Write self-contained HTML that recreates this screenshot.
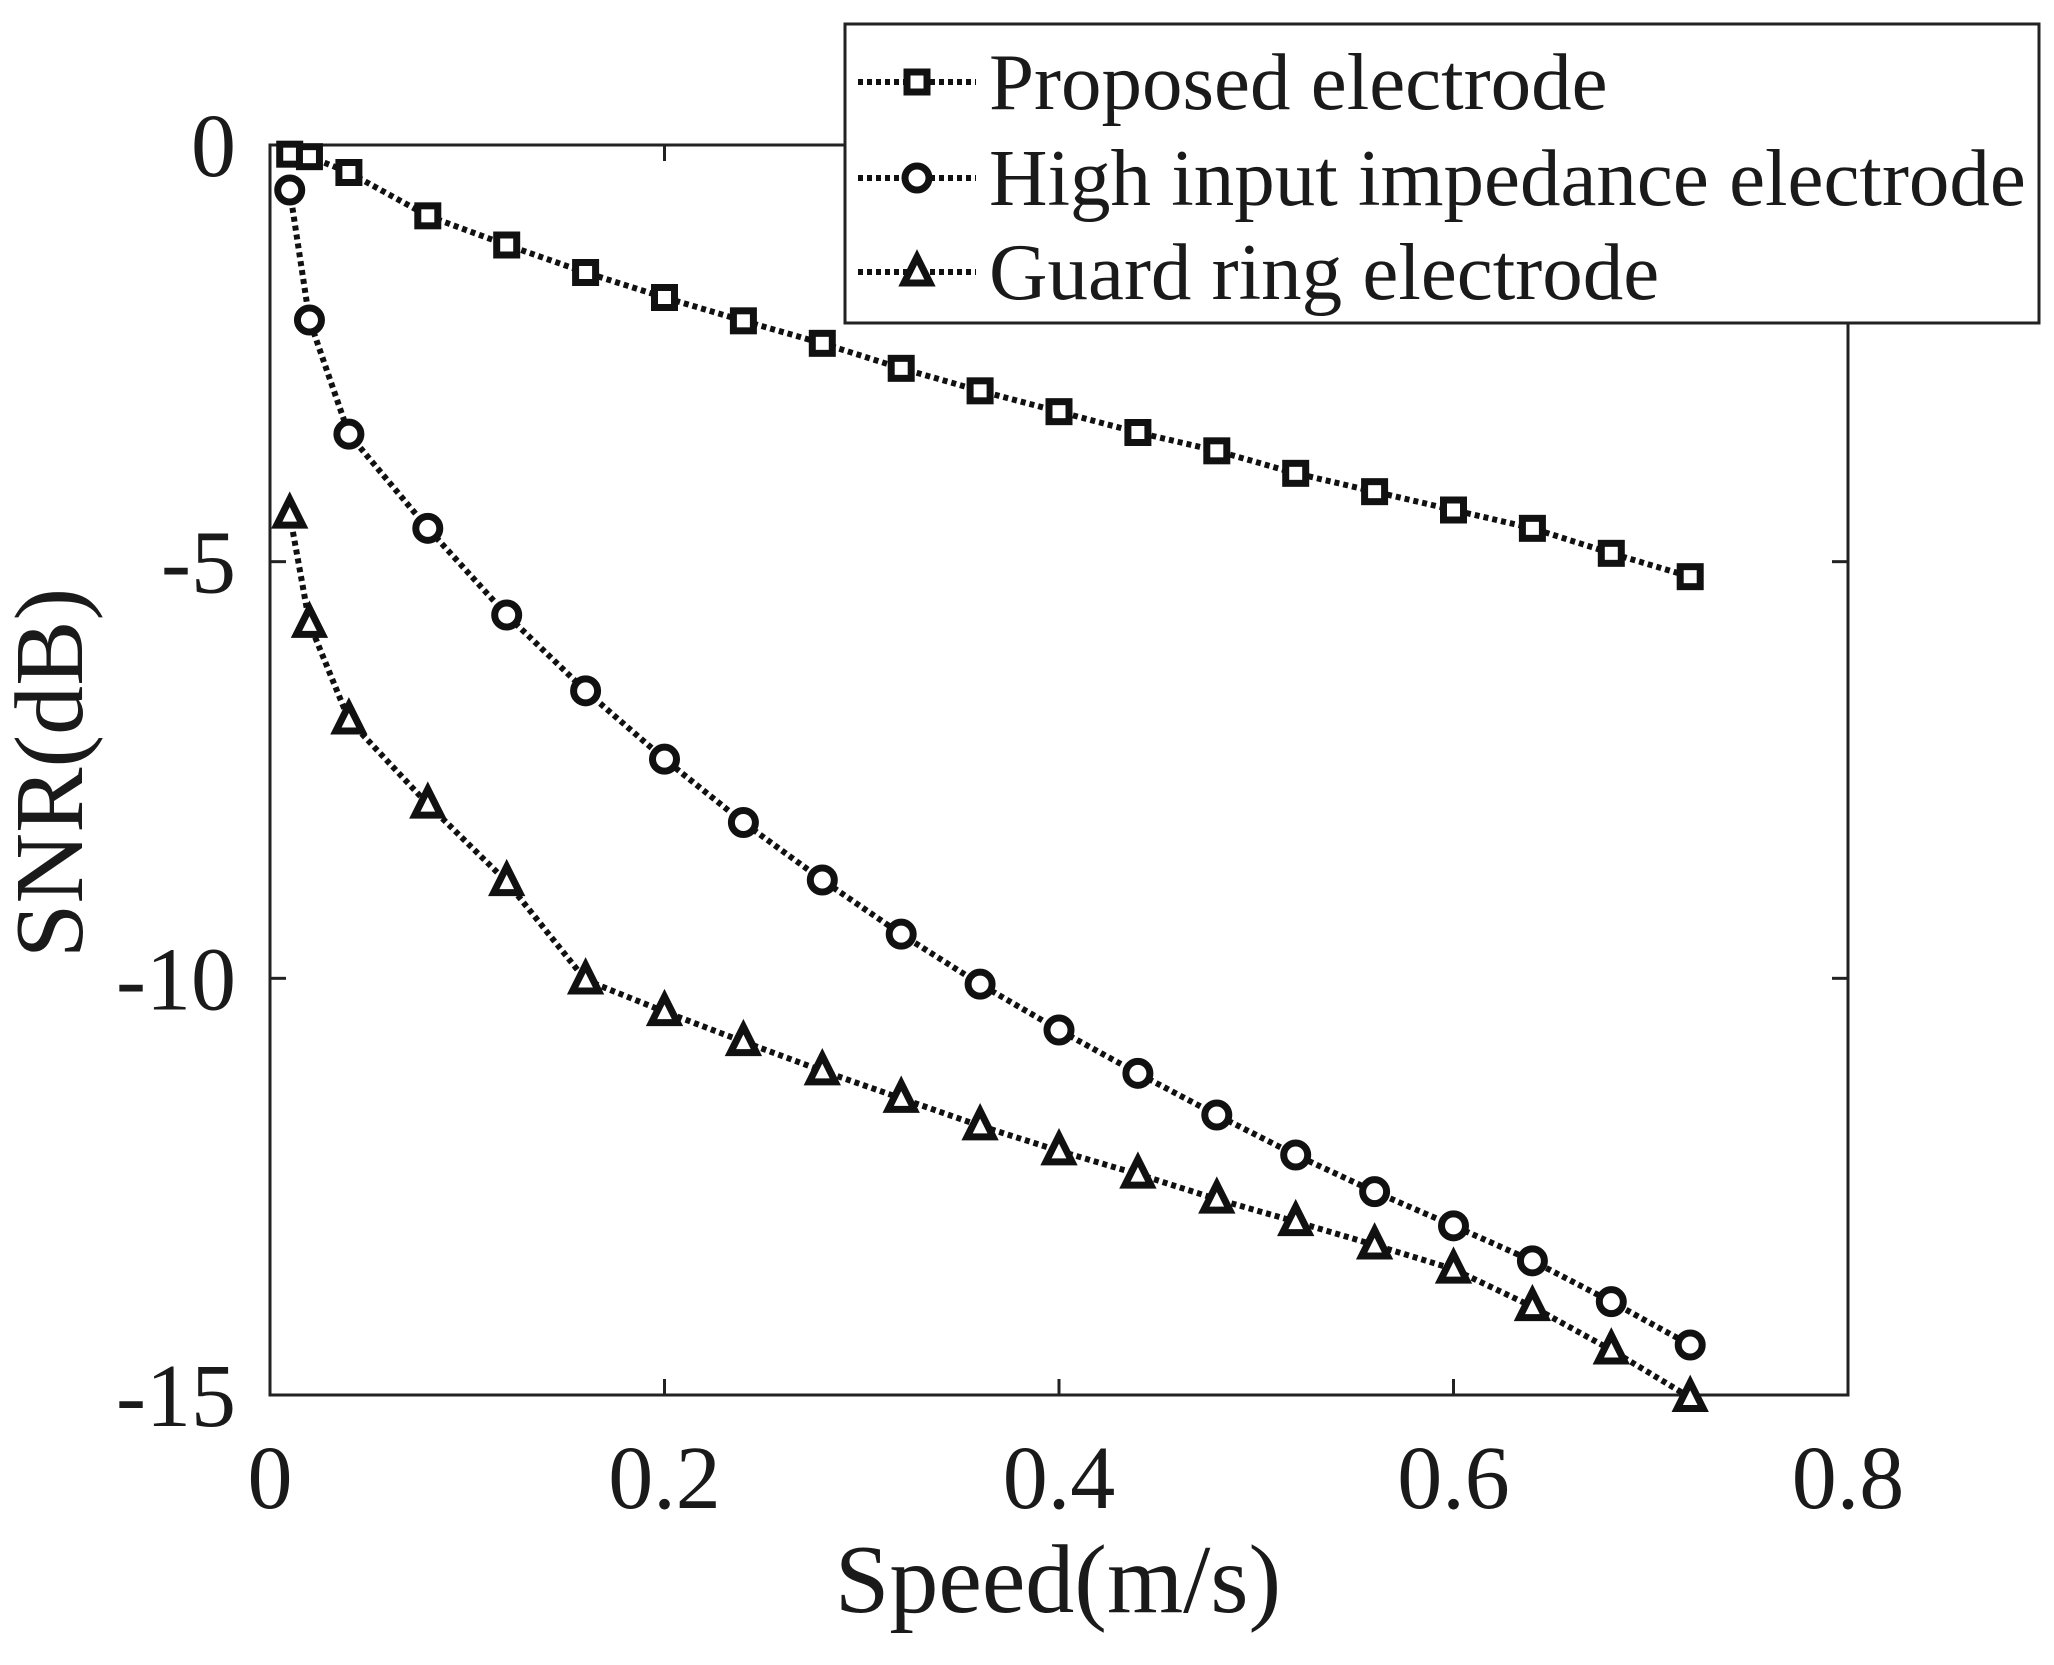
<!DOCTYPE html>
<html><head><meta charset="utf-8"><style>
html,body{margin:0;padding:0;background:#fff;}
svg{display:block;}
text{font-family:"Liberation Serif",serif;fill:#1a1a1a;}
</style></head><body>
<svg id="s" width="2054" height="1665" xmlns="http://www.w3.org/2000/svg">
<rect x="0" y="0" width="2054" height="1665" fill="#fff"/>
<g id="plot"></g>
</svg>
<script>
const L=270,R=1848,T=145,B=1395;
const X=v=>L+v/0.8*(R-L);
function y(v){return T+(-v)/15*(B-T);}
const xs=[0.01,0.02,0.04,0.08];for(let v=0.12;v<0.725;v+=0.04)xs.push(+v.toFixed(2));
const P=[-0.11,-0.14,-0.33,-0.85,-1.2,-1.53,-1.83,-2.11,-2.38,-2.68,-2.95,-3.2,-3.45,-3.67,-3.94,-4.16,-4.38,-4.6,-4.9,-5.18];
const H=[-0.54,-2.1,-3.47,-4.6,-5.64,-6.55,-7.37,-8.13,-8.82,-9.47,-10.07,-10.62,-11.14,-11.64,-12.12,-12.56,-12.97,-13.39,-13.88,-14.4];
const G=[-4.43,-5.74,-6.9,-7.91,-8.84,-10.02,-10.4,-10.76,-11.11,-11.44,-11.77,-12.07,-12.35,-12.65,-12.92,-13.2,-13.49,-13.94,-14.46,-15.03];
let s='';
s+=`<rect x="${L}" y="${T}" width="${R-L}" height="${B-T}" fill="none" stroke="#222" stroke-width="3"/>`;
for(let i=0;i<=4;i++){const xx=X(i*0.2);s+=`<line x1="${xx}" y1="${B}" x2="${xx}" y2="${B-16}" stroke="#222" stroke-width="3"/><line x1="${xx}" y1="${T}" x2="${xx}" y2="${T+16}" stroke="#222" stroke-width="3"/>`;
s+=`<text x="${xx}" y="1508" font-size="90" text-anchor="middle">${i==0?'0':(i*0.2).toFixed(1)}</text>`;}
for(let i=0;i<=3;i++){const yy=y(-5*i);s+=`<line x1="${L}" y1="${yy}" x2="${L+16}" y2="${yy}" stroke="#222" stroke-width="3"/><line x1="${R}" y1="${yy}" x2="${R-16}" y2="${yy}" stroke="#222" stroke-width="3"/>`;
s+=`<text x="236" y="${yy+31}" font-size="90" text-anchor="end">${i==0?'0':'-'+(5*i)}</text>`;}
s+=`<text x="1058" y="1612" font-size="98" text-anchor="middle">Speed(m/s)</text>`;
s+=`<text transform="translate(82,773) rotate(-90)" font-size="98" text-anchor="middle">SNR(dB)</text>`;
function line(d){return `<polyline points="${d}" fill="none" stroke="#111" stroke-width="6" stroke-dasharray="5 4"/>`;}
function mk(t,cx,cy){
 if(t=='s')return `<rect x="${cx-10}" y="${cy-10}" width="20" height="20" fill="#fff" stroke="#111" stroke-width="7"/>`;
 if(t=='c')return `<circle cx="${cx}" cy="${cy}" r="12" fill="#fff" stroke="#111" stroke-width="7"/>`;
 return `<polygon points="${cx},${cy-15} ${cx-13},${cy+11} ${cx+13},${cy+11}" fill="#fff" stroke="#111" stroke-width="7" stroke-linejoin="miter"/>`;}
[[P,'s'],[H,'c'],[G,'t']].forEach(([d,t])=>{
 s+=line(d.map((v,i)=>X(xs[i])+','+y(v)).join(' '));
 d.forEach((v,i)=>s+=mk(t,X(xs[i]),y(v)));
});
s+=`<rect x="845" y="24" width="1194" height="299" fill="#fff" stroke="#222" stroke-width="3"/>`;
const ly=[82,178,272],lab=['Proposed electrode','High input impedance electrode','Guard ring electrode'],lt=['s','c','t'];
for(let i=0;i<3;i++){s+=line(`858,${ly[i]} 976,${ly[i]}`)+mk(lt[i],917,ly[i]);
 s+=`<text x="989" y="${ly[i]+27}" font-size="81">${lab[i]}</text>`;}
document.getElementById('plot').innerHTML=s;
</script>
</body></html>
